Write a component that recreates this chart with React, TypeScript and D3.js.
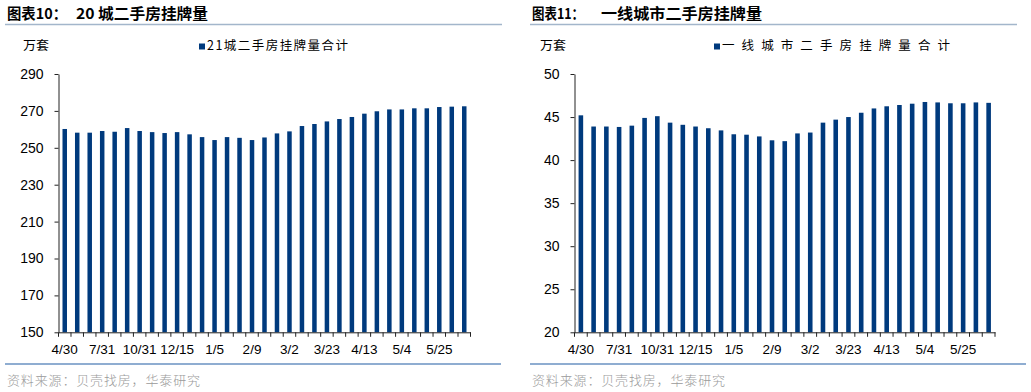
import React, { useRef, useEffect } from 'react';
import * as d3 from 'd3';

// weekly / monthly snapshot dates (only every 3rd one is labelled)
const dates = [
  "4/30", "5/31", "6/30", "7/31", "8/31", "9/30", "10/31", "11/30", "12/8",
  "12/15", "12/22", "12/29", "1/5", "1/12", "1/26", "2/9", "2/16", "2/23",
  "3/2", "3/9", "3/16", "3/23", "3/30", "4/6", "4/13", "4/20", "4/27",
  "5/4", "5/11", "5/18", "5/25", "6/1", "6/8"
];

// 21城二手房挂牌量合计 (万套)
const city21Values = [
  260.2, 258.2, 258.2, 259.1, 258.7, 260.7, 259.1, 258.5, 258.0, 258.5, 257.3,
  255.8, 254.2, 255.8, 255.4, 254.2, 255.6, 257.8, 258.9, 261.8, 262.9, 264.3,
  265.6, 266.7, 268.5, 269.8, 270.8, 270.8, 271.4, 271.4, 272.1, 272.3, 272.5
];

// 一线城市二手房挂牌量合计 (万套)
const tier1Values = [
  45.2, 43.9, 43.9, 43.85, 44.0, 44.9, 45.1, 44.35, 44.1, 43.9, 43.7,
  43.45, 43.0, 42.95, 42.75, 42.3, 42.2, 43.1, 43.2, 44.35, 44.7, 45.0,
  45.5, 46.0, 46.25, 46.4, 46.55, 46.75, 46.7, 46.6, 46.6, 46.7, 46.65
];

const leftTicks = [150, 170, 190, 210, 230, 250, 270, 290];
const rightTicks = [20, 25, 30, 35, 40, 45, 50];

const CJK = '"Noto Sans CJK SC", sans-serif';
const LATIN = '"Liberation Sans", Arial, sans-serif';
const BAR = "#003a7d";

type PanelCfg = {
  x0: number;
  x1: number;
  axisX: number;
  axisEnd: number;
  titleA: string;
  titleAw: number;
  titleB: string;
  titleBx: number;
  titleBw: number;
  unitX: number;
  legendX: number;
  legend: string;
  legendW: number;
  values: number[];
  domain: [number, number];
  ticks: number[];
  lineEnd: number;
  sepEnd: number;
};

const App = () => {
  const svgRef = useRef<SVGSVGElement>(null);

  useEffect(() => {
    const svg = d3.select(svgRef.current);
    svg.selectAll("*").remove();

    const top = 74;
    const bottom = 332.3;

    const panels: PanelCfg[] = [
      {
        x0: 5, x1: 7, axisX: 58.5, axisEnd: 470.5,
        titleA: "图表10：", titleAw: 60, titleB: "20 城二手房挂牌量", titleBx: 76, titleBw: 132,
        unitX: 23, legendX: 199, legend: "21城二手房挂牌量合计", legendW: 141,
        values: city21Values, domain: [150, 290], ticks: leftTicks,
        lineEnd: 502, sepEnd: 501
      },
      {
        x0: 530, x1: 532, axisX: 574.5, axisEnd: 995,
        titleA: "图表11：", titleAw: 52, titleB: "一线城市二手房挂牌量", titleBx: 601, titleBw: 161,
        unitX: 540, legendX: 714, legend: "一线城市二手房挂牌量合计", legendW: 228,
        values: tier1Values, domain: [20, 50], ticks: rightTicks,
        lineEnd: 1017, sepEnd: 1026
      }
    ];

    panels.forEach(p => {
      const g = svg.append("g");

      // title
      g.append("text")
        .attr("x", p.x1).attr("y", 19)
        .attr("textLength", p.titleAw).attr("lengthAdjust", "spacingAndGlyphs")
        .style("font-family", CJK).style("font-weight", 700).style("font-size", "15px")
        .text(p.titleA);
      g.append("text")
        .attr("x", p.titleBx).attr("y", 19)
        .attr("textLength", p.titleBw).attr("lengthAdjust", "spacingAndGlyphs")
        .style("font-family", CJK).style("font-weight", 700).style("font-size", "15px")
        .text(p.titleB);
      g.append("line")
        .attr("x1", p.x0).attr("x2", p.lineEnd).attr("y1", 24.5).attr("y2", 24.5)
        .attr("stroke", "#a3b6cb").attr("stroke-width", 1.5);

      // unit + legend
      g.append("text")
        .attr("x", p.unitX).attr("y", 50)
        .attr("textLength", 26).attr("lengthAdjust", "spacingAndGlyphs")
        .style("font-family", CJK).style("font-size", "12.5px")
        .text("万套");
      g.append("rect")
        .attr("x", p.legendX).attr("y", 43.5).attr("width", 6).attr("height", 6)
        .attr("fill", BAR);
      g.append("text")
        .attr("x", p.legendX + 8).attr("y", 50)
        .attr("textLength", p.legendW).attr("lengthAdjust", "spacing")
        .style("font-family", CJK).style("font-size", "12.5px")
        .text(p.legend);

      // scales
      const x = d3.scaleBand<string>()
        .domain(dates)
        .range([p.axisX, p.axisEnd])
        .paddingInner(0.64)
        .paddingOuter(0.32);

      const y = d3.scaleLinear()
        .domain(p.domain)
        .range([bottom, top]);

      // bars
      g.append("g")
        .selectAll("rect")
        .data(p.values)
        .enter()
        .append("rect")
        .attr("x", (d, i) => x(dates[i]) as number)
        .attr("y", d => y(d))
        .attr("width", x.bandwidth())
        .attr("height", d => bottom - y(d))
        .attr("fill", BAR);

      // y axis
      const yAxis = d3.axisLeft(y).tickValues(p.ticks).tickSize(4).tickSizeOuter(0).tickPadding(11);
      const ya = g.append("g")
        .attr("transform", `translate(${p.axisX},0)`)
        .call(yAxis);
      ya.selectAll("text")
        .style("font-family", LATIN).style("font-size", "14px").attr("fill", "#000");
      ya.selectAll("line, path").attr("stroke", "#222");

      // x axis labels (every 3rd date)
      const xAxis = d3.axisBottom(x)
        .tickValues(dates.filter((_, i) => i % 3 === 0))
        .tickSize(0)
        .tickPadding(12);
      const xa = g.append("g")
        .attr("transform", `translate(0,${bottom})`)
        .call(xAxis);
      xa.selectAll("text")
        .style("font-family", LATIN).style("font-size", "13.5px").attr("fill", "#000");
      xa.select("path").attr("stroke", "#222");

      // x tick marks on category boundaries
      const bounds = d3.range(dates.length + 1).map(i => p.axisX + i * x.step());
      xa.selectAll("line.bound")
        .data(bounds)
        .enter()
        .append("line")
        .attr("class", "bound")
        .attr("x1", d => d).attr("x2", d => d)
        .attr("y1", 0).attr("y2", 4.5)
        .attr("stroke", "#222");

      // source
      g.append("line")
        .attr("x1", p.x0).attr("x2", p.sepEnd).attr("y1", 364).attr("y2", 364)
        .attr("stroke", "#6a92c2").attr("stroke-width", 1.5);
      g.append("text")
        .attr("x", p.x1).attr("y", 385)
        .attr("textLength", 193).attr("lengthAdjust", "spacing")
        .style("font-family", CJK).style("font-size", "13px").style("font-weight", 300)
        .attr("fill", "#9a9a9a")
        .text("资料来源：贝壳找房，华泰研究");
    });
  }, []);

  return (
    <div style={{ position: "absolute", left: 0, top: 0, width: 1031, height: 392, background: "#fff" }}>
      <svg ref={svgRef} width={1031} height={392}></svg>
    </div>
  );
};

export default App;
